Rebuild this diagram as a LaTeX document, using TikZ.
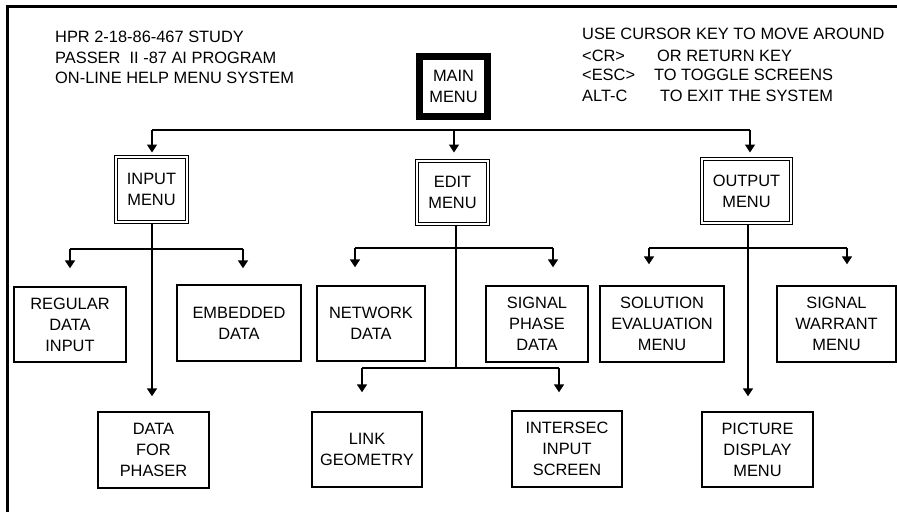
\documentclass[tikz,border=0pt]{standalone}
\usepackage{fontspec}
\setmainfont{Liberation Sans}
\usetikzlibrary{arrows.meta}
\begin{document}
\begin{tikzpicture}[x=1pt,y=-1pt,
 every node/.style={font=\fontsize{16.4}{21}\selectfont},
 plainbox/.style={draw,line width=1.4pt,align=center,inner sep=0pt},
 dblbox/.style={draw,double,double distance=2pt,line width=1pt,align=center,inner sep=0pt},
 mainbox/.style={draw,line width=7pt,align=center,inner sep=0pt},
 conn/.style={line width=1.6pt},
 arr/.style={conn,-{Triangle[width=10pt,length=8pt]}},
 hdr/.style={anchor=base west,inner sep=0pt}]
\useasboundingbox (0,0) rectangle (897,512);
% frame
\draw[line width=3pt] (7,512) -- (7,6) -- (897,6);
% header texts
\node[hdr] (h1) at (55,42) {HPR 2-18-86-467 STUDY};
\node[hdr] (h2) at (55,63) {PASSER \ II -87 AI PROGRAM};
\node[hdr] (h3) at (55,83) {ON-LINE HELP MENU SYSTEM};
\node[hdr] (r1) at (582,39.5) {USE CURSOR KEY TO MOVE AROUND};
\node[hdr] (r2a) at (582,61.5) {<CR>};
\node[hdr] (r2b) at (657,61.5) {OR RETURN KEY};
\node[hdr] (r3a) at (582,80.5) {<ESC>};
\node[hdr] (r3b) at (654,80.5) {TO TOGGLE SCREENS};
\node[hdr] (r4a) at (582,101.5) {ALT-C};
\node[hdr] (r4b) at (660,101.5) {TO EXIT THE SYSTEM};
% boxes
\node[mainbox,minimum width=68pt,minimum height=60pt] (main) at (453.5,86.5) {MAIN\\MENU};
\node[dblbox,minimum width=71pt,minimum height=65pt] (input) at (151.5,189.5) {INPUT\\MENU};
\node[dblbox,minimum width=71pt,minimum height=63pt] (edit) at (452.5,192.5) {EDIT\\MENU};
\node[dblbox,minimum width=89pt,minimum height=64pt] (output) at (746.5,191) {OUTPUT\\MENU};
\node[plainbox,minimum width=112pt,minimum height=75pt] (regular) at (70,324.5) {REGULAR\\DATA\\INPUT};
\node[plainbox,minimum width=124pt,minimum height=76pt] (embedded) at (239,323) {EMBEDDED\\DATA};
\node[plainbox,minimum width=111pt,minimum height=76pt] (phaser) at (153.5,450) {DATA\\FOR\\PHASER};
\node[plainbox,minimum width=108pt,minimum height=75pt] (network) at (371,323.5) {NETWORK\\DATA};
\node[plainbox,minimum width=102pt,minimum height=76pt] (signal) at (537,324) {SIGNAL\\PHASE\\DATA};
\node[plainbox,minimum width=110pt,minimum height=75pt] (link) at (367,449.5) {LINK\\GEOMETRY};
\node[plainbox,minimum width=110pt,minimum height=76pt] (intersec) at (567,449) {INTERSEC\\INPUT\\SCREEN};
\node[plainbox,minimum width=124pt,minimum height=76pt] (solution) at (662,324) {SOLUTION\\EVALUATION\\MENU};
\node[plainbox,minimum width=119pt,minimum height=76pt] (warrant) at (836.5,324) {SIGNAL\\WARRANT\\MENU};
\node[plainbox,minimum width=111pt,minimum height=75pt] (picture) at (757.5,449.5) {PICTURE\\DISPLAY\\MENU};
% main level connectors
\coordinate (bL) at (152,130);
\coordinate (bE) at (454,130);
\coordinate (bR) at (750,130);
\draw[conn] (bL) -- (bR);
\draw[arr,shorten >=4pt] (bL) -- (bL |- input.north);
\draw[arr,shorten >=8pt] (bE) -- (bE |- edit.north);
\draw[arr,shorten >=6pt] (bR) -- (bR |- output.north);
% input subtree
\coordinate (iV) at (152,249);
\coordinate (iL) at (70,249);
\coordinate (iR) at (243,249);
\draw[arr,shorten >=15pt] (input.south -| iV) -- (iV |- phaser.north);
\draw[conn] (iL) -- (iR);
\draw[arr,shorten >=18pt] (iL) -- (iL |- regular.north);
\draw[arr,shorten >=16pt] (iR) -- (iR |- embedded.north);
% edit subtree
\coordinate (eV) at (456,368);
\coordinate (eUL) at (355,248);
\coordinate (eUR) at (553,248);
\coordinate (eLL) at (362,368);
\coordinate (eLR) at (559,368);
\draw[conn] (edit.south -| eV) -- (eV);
\draw[conn] (eUL) -- (eUR);
\draw[arr,shorten >=18pt] (eUL) -- (eUL |- network.north);
\draw[arr,shorten >=18pt] (eUR) -- (eUR |- signal.north);
\draw[conn] (eLL) -- (eLR);
\draw[arr,shorten >=19pt] (eLL) -- (eLL |- link.north);
\draw[arr,shorten >=18pt] (eLR) -- (eLR |- intersec.north);
% output subtree
\coordinate (oV) at (748,248);
\coordinate (oL) at (649,248);
\coordinate (oR) at (847,248);
\draw[arr,shorten >=15pt] (output.south -| oV) -- (oV |- picture.north);
\draw[conn] (oL) -- (oR);
\draw[arr,shorten >=21pt] (oL) -- (oL |- solution.north);
\draw[arr,shorten >=21pt] (oR) -- (oR |- warrant.north);
\end{tikzpicture}
\end{document}
